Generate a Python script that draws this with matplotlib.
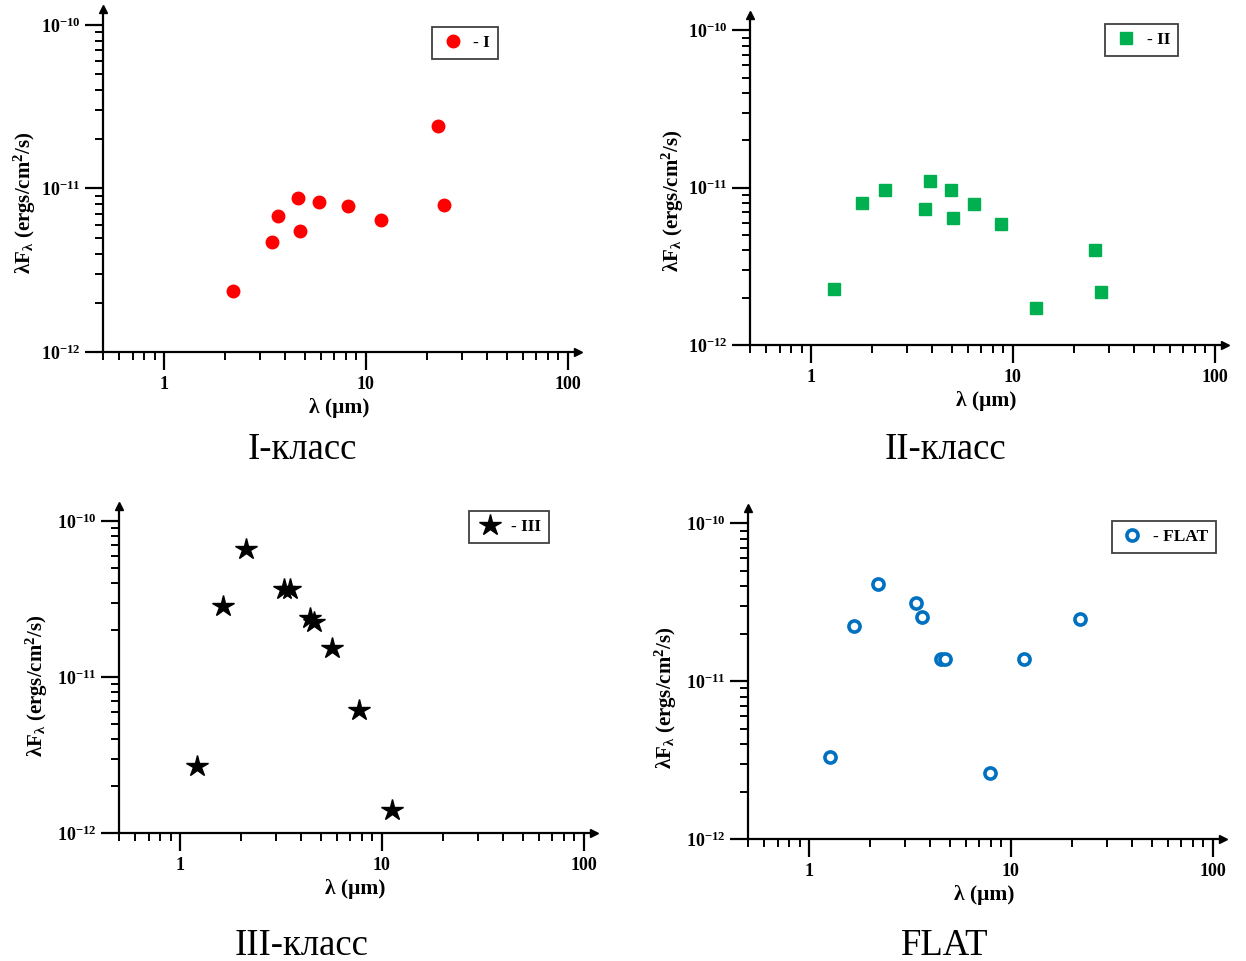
import matplotlib
matplotlib.use('Agg')
import matplotlib.pyplot as plt
from matplotlib.ticker import LogLocator, NullFormatter

plt.rcParams['font.family'] = ['Liberation Serif', 'DejaVu Serif']
plt.rcParams['mathtext.fontset'] = 'custom'
plt.rcParams['mathtext.rm'] = 'Liberation Serif:bold'
plt.rcParams['mathtext.it'] = 'Liberation Serif:bold'
plt.rcParams['mathtext.bf'] = 'Liberation Serif:bold'

# данные (λ в мкм, λF_λ в ergs/cm2/s)
lam_I = [2.2, 3.42, 3.67, 4.6, 4.71, 5.85, 8.15, 11.9, 22.7, 24.3]
flux_I = [2.37e-12, 4.7e-12, 6.8e-12, 8.8e-12, 5.5e-12, 8.3e-12, 7.8e-12, 6.4e-12, 2.4e-11, 7.9e-12]

lam_II = [1.31, 1.79, 2.32, 3.67, 3.88, 4.93, 5.05, 6.41, 8.72, 13.0, 25.5, 27.3]
flux_II = [2.26e-12, 8.0e-12, 9.7e-12, 7.3e-12, 1.11e-11, 9.7e-12, 6.4e-12, 7.9e-12, 5.9e-12, 1.73e-12, 4.0e-12, 2.17e-12]

lam_III = [1.21, 1.63, 2.12, 3.27, 3.5, 4.4, 4.6, 5.65, 7.7, 11.3]
flux_III = [2.69e-12, 2.85e-11, 6.6e-11, 3.67e-11, 3.67e-11, 2.39e-11, 2.25e-11, 1.53e-11, 6.2e-12, 1.4e-12]

lam_FLAT = [1.27, 1.67, 2.2, 3.39, 3.63, 4.5, 4.71, 7.87, 11.6, 22.0]
flux_FLAT = [3.33e-12, 2.24e-11, 4.15e-11, 3.14e-11, 2.56e-11, 1.38e-11, 1.38e-11, 2.63e-12, 1.38e-11, 2.48e-11]

x_ticks = [1, 10, 100]
x_ticklabels = ['1', '10', '100']
y_ticks = [1e-12, 1e-11, 1e-10]
y_ticklabels = ['10$^{-12}$', '10$^{-11}$', '10$^{-10}$']

legend_labels = ['- I', '- II', '- III', '- FLAT']
titles = ['I-класс', 'II-класс', 'III-класс', 'FLAT']

W, H = 1246, 961
fig = plt.figure(figsize=(W / 100, H / 100), dpi=100)


def px_axes(left, right, top, bottom):
    return fig.add_axes([left / W, 1 - bottom / H, (right - left) / W, (bottom - top) / H])


def setup(ax, legend_anchor, handle, label, ylab_pos):
    ax.set_xscale('log')
    ax.set_yscale('log')
    ax.set_xlim(0.5, 110)
    ax.set_ylim(1e-12, 1.2e-10)
    for s in ['top', 'right']:
        ax.spines[s].set_visible(False)
    for s in ['left', 'bottom']:
        ax.spines[s].set_linewidth(1.6)
    ax.set_xticks(x_ticks)
    ax.set_xticklabels(x_ticklabels)
    ax.set_yticks(y_ticks)
    ax.set_yticklabels(y_ticklabels)
    ax.xaxis.set_minor_locator(LogLocator(base=10, subs=range(2, 10)))
    ax.yaxis.set_minor_locator(LogLocator(base=10, subs=range(2, 10)))
    ax.xaxis.set_minor_formatter(NullFormatter())
    ax.yaxis.set_minor_formatter(NullFormatter())
    ax.tick_params(which='major', direction='out', length=13, width=1.6, labelsize=13, pad=4)
    ax.tick_params(which='minor', direction='out', length=6, width=1.4)
    ax.tick_params(axis='y', which='major', pad=3)
    for t in ax.get_xticklabels() + ax.get_yticklabels():
        t.set_fontweight('bold')
    # стрелки на концах осей
    ax.plot(1.005, 0, marker='>', color='k', ms=6, transform=ax.transAxes, clip_on=False)
    ax.plot(0, 1.01, marker='^', color='k', ms=6, transform=ax.transAxes, clip_on=False)
    ax.set_xlabel('λ (μm)', fontsize=15.5, fontweight='bold', labelpad=4)
    ax.set_ylabel('λF$_λ$ (ergs/cm$^2$/s)', fontsize=15, fontweight='bold')
    ax.yaxis.set_label_coords(*ylab_pos)
    leg = ax.legend([handle], [label], loc='upper right', bbox_to_anchor=legend_anchor,
                    borderaxespad=0, fancybox=False, framealpha=1, handletextpad=0.45,
                    handlelength=1.5, borderpad=0.45, prop={'weight': 'bold', 'size': 12.5})
    leg.get_frame().set_edgecolor('#404040')
    leg.get_frame().set_linewidth(1.3)


ax1 = px_axes(103, 576, 12, 352)
h1, = ax1.plot(lam_I, flux_I, 'o', color='#ff0000', ms=9, ls='none')
setup(ax1, (0.835, 0.956), h1, legend_labels[0], (-0.137, 0.44))

ax2 = px_axes(750, 1223, 18, 345)
h2, = ax2.plot(lam_II, flux_II, 's', color='#00b050', ms=8, ls='none')
setup(ax2, (0.905, 0.982), h2, legend_labels[1], (-0.135, 0.44))

ax3 = px_axes(119, 592, 509, 833)
h3, = ax3.plot(lam_III, flux_III, '*', color='k', ms=16, ls='none')
setup(ax3, (0.909, 0.994), h3, legend_labels[2], (-0.145, 0.455))

ax4 = px_axes(748, 1221, 511, 839)
h4, = ax4.plot(lam_FLAT, flux_FLAT, 'o', mfc='white', mec='#0070c0', mew=2.6, ms=8, ls='none')
setup(ax4, (0.99, 0.97), h4, legend_labels[3], (-0.146, 0.43))

fig.text(302 / W, 1 - 459 / H, titles[0], ha='center', va='baseline', fontsize=26.5)
fig.text(945 / W, 1 - 459 / H, titles[1], ha='center', va='baseline', fontsize=26.5)
fig.text(302 / W, 1 - 955 / H, titles[2], ha='center', va='baseline', fontsize=26.5)
fig.text(945 / W, 1 - 955 / H, titles[3], ha='center', va='baseline', fontsize=26.5)

fig.savefig('out.png', dpi=100, facecolor='white')
